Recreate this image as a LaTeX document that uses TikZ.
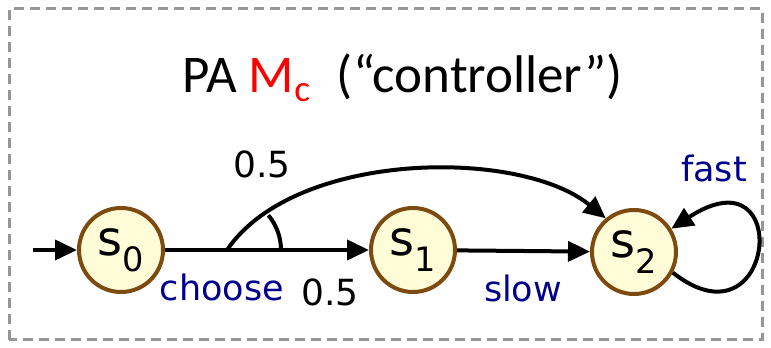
\documentclass[tikz,border=0pt]{standalone}
\usepackage{fontspec}
\setmainfont{DejaVu Sans}
\newfontfamily\titlefont{Carlito}
\usetikzlibrary{arrows.meta}
\definecolor{nodefill}{RGB}{255,253,215}
\definecolor{nodeborder}{RGB}{125,75,15}
\definecolor{lblblue}{RGB}{0,0,140}
\definecolor{framegray}{RGB}{150,150,150}
\begin{document}
\begin{tikzpicture}[x=1pt,y=1pt,
  state/.style={circle,draw=nodeborder,fill=nodefill,line width=4pt,minimum size=84pt,inner sep=0pt,font=\fontsize{48}{50}\selectfont},
  edge/.style={line width=4pt,-{Triangle[length=22pt,width=20pt]}},
  act/.style={text=lblblue,font=\fontsize{35}{37}\selectfont},
  prob/.style={font=\fontsize{36}{38}\selectfont}]
\useasboundingbox (0,0) rectangle (771,348);
\draw[framegray,line width=3pt,dash pattern=on 10pt off 6pt] (9,8) rectangle (762,339);
\node[font=\titlefont\fontsize{53}{55}\selectfont] (title) at (403,270) {PA \textcolor{red}{M\textsubscript{c}}\enspace(“controller”)};
\node[state] (s0) at (121,98) {s$_{\mathrm{0}}$};
\node[state] (s1) at (413,98) {s$_{\mathrm{1}}$};
\node[state] (s2) at (634,96) {s$_{\mathrm{2}}$};
\coordinate (init) at (33,98);
\coordinate (br) at (227,98);
\draw[edge] (init) -- (s0);
\draw[line width=4pt] (s0) -- (br);
\draw[edge] (br) -- (s1);
\draw[edge] (br) .. controls (295,198) and (520,200) .. (s2.130);
\draw[line width=4pt] ([xshift=54pt]br) arc[start angle=0,end angle=40,radius=54pt];
\draw[edge] (s1) -- (s2);
\draw[edge] (s2.-28) .. controls (775,-5) and (795,200) .. (s2.32);
\node[prob] (p1) at (262,184) {0.5};
\node[act] (a0) at (222,61) {choose};
\node[prob] (p2) at (330,56) {0.5};
\node[act] (a1) at (523,60) {slow};
\node[act] (a2) at (714,180) {fast};
\end{tikzpicture}
\end{document}
